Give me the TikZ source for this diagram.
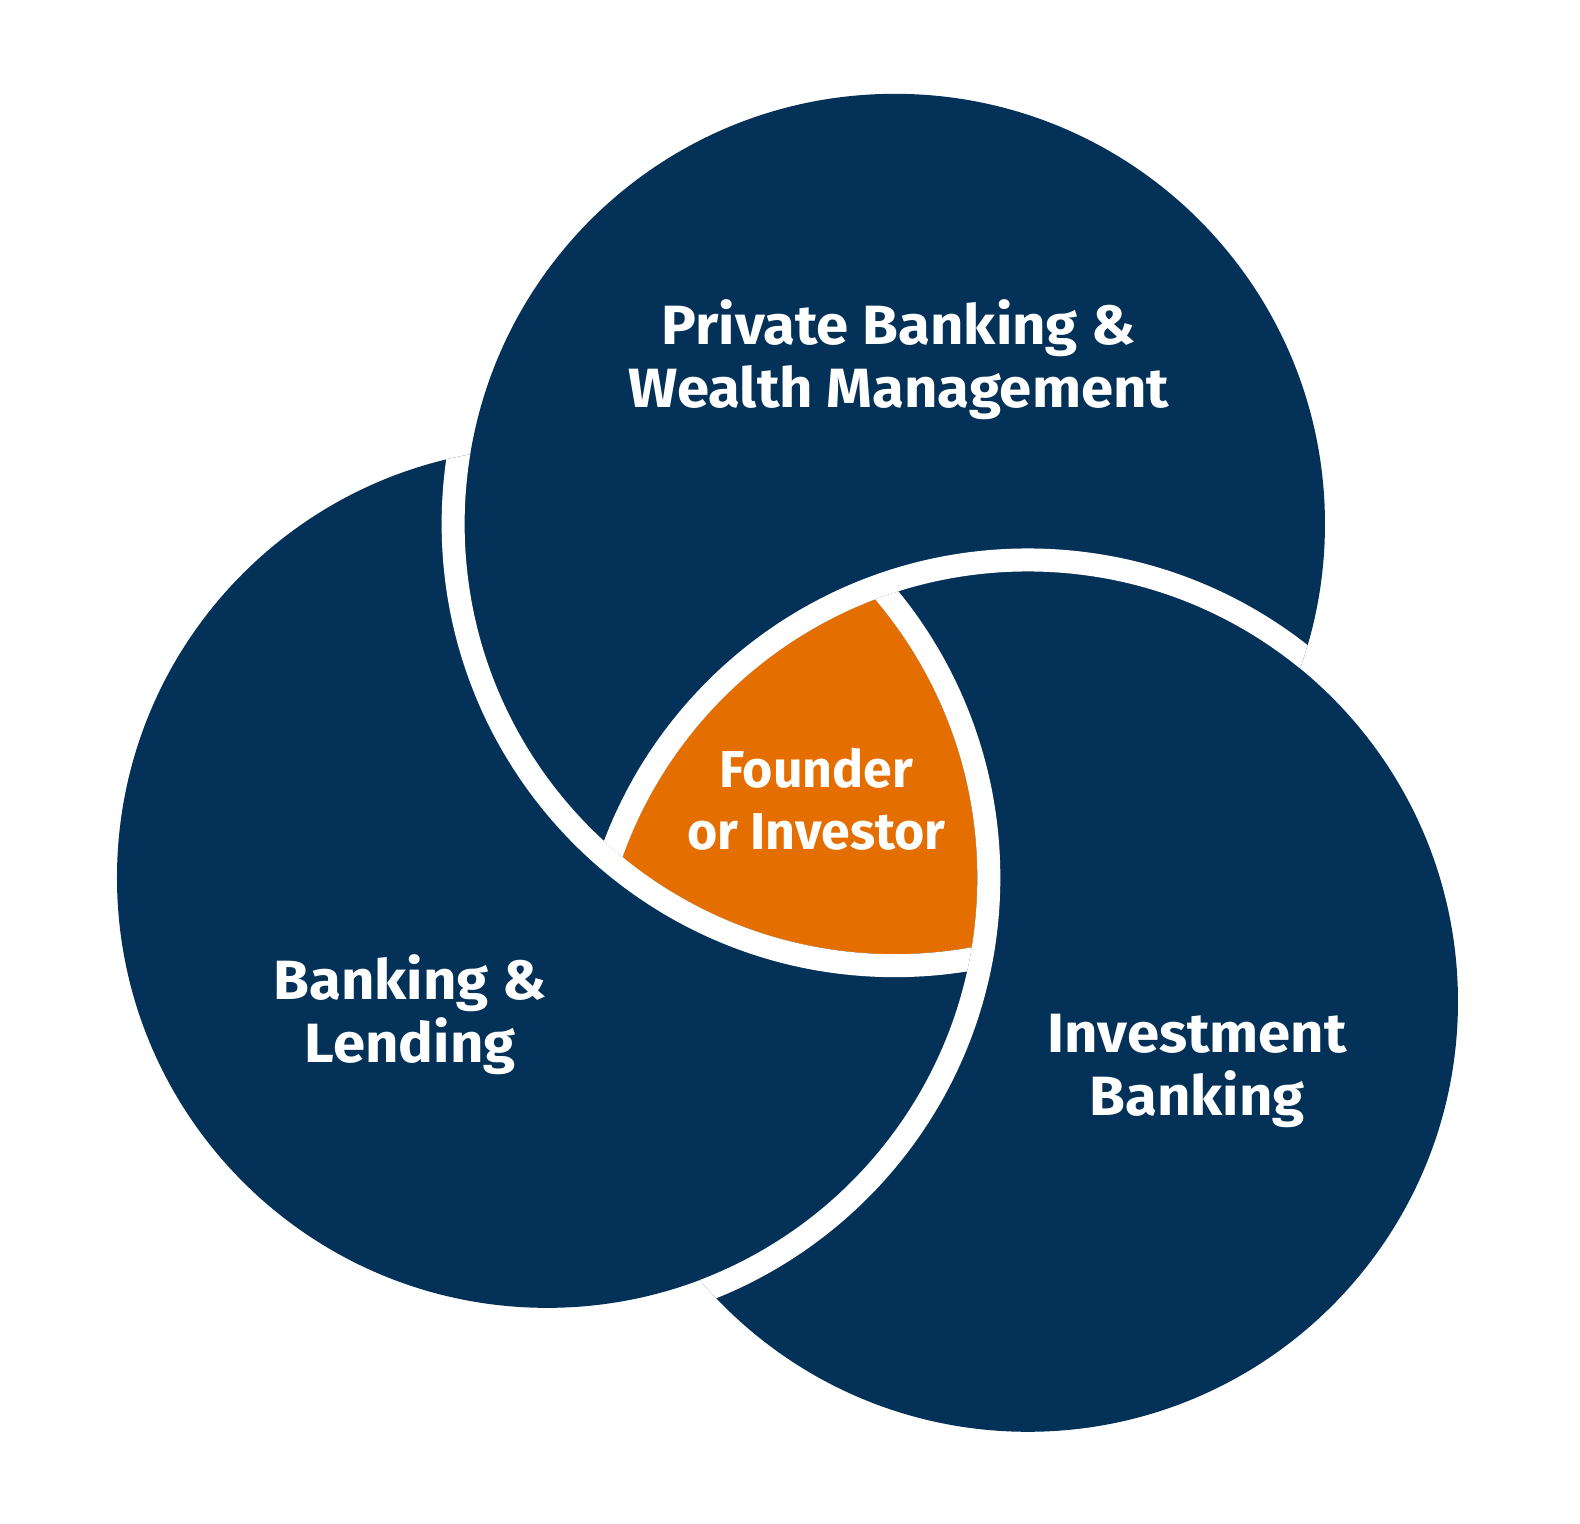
\documentclass[tikz,border=0pt]{standalone}
\usepackage{fontspec}
\setmainfont{Fira Sans}
\usepackage{tikz}
\definecolor{venavy}{HTML}{033157}
\definecolor{venorange}{HTML}{E46F00}
\tikzset{
  gapband/.style={draw=white, line width=0.46cm},
  ringlabel/.style={text=white, font=\bfseries\fontsize{31.5}{36}\selectfont\addfontfeatures{FakeStretch=1.05}, align=center, inner sep=0pt},
  corelabel/.style={text=white, font=\bfseries\fontsize{29.5}{35}\selectfont, align=center, inner sep=0pt},
}

\begin{document}
\begin{tikzpicture}[x=0.020153cm, y=-0.020153cm]
  \useasboundingbox (0,0) rectangle (1568,1512);
  \coordinate (ctop) at (888,520);
  \coordinate (cleft) at (543,871);
  \coordinate (cright) at (1020,994);
  % the three discs
  \fill[venavy] (ctop) circle (8.605cm) (cleft) circle (8.605cm) (cright) circle (8.605cm);
  % common part
  \begin{scope}
    \clip (ctop) circle (8.605cm);
    \clip (cleft) circle (8.605cm);
    \fill[venorange] (cright) circle (8.605cm);
  \end{scope}
  % white gaps: top over left, right over top, left over right
  \begin{scope}
    \clip (cleft) circle (8.605cm);
    \draw[gapband] (ctop) circle (8.835cm);
  \end{scope}
  \begin{scope}
    \clip (ctop) circle (8.605cm);
    \draw[gapband] (cright) circle (8.835cm);
  \end{scope}
  \begin{scope}
    \clip (cright) circle (8.605cm);
    \draw[gapband] (cleft) circle (8.835cm);
  \end{scope}
  % labels
  \node[ringlabel] (wealth) at (892,357) {Private Banking \&\\Wealth Management};
  \node[ringlabel] (lending) at (407,1007) {Banking \&\\Lending};
  \node[ringlabel] (invest) at (1188,1063) {Investment\\Banking};
  \node[corelabel] (founder) at (810,793) {Founder\\or Investor};
\end{tikzpicture}
\end{document}
